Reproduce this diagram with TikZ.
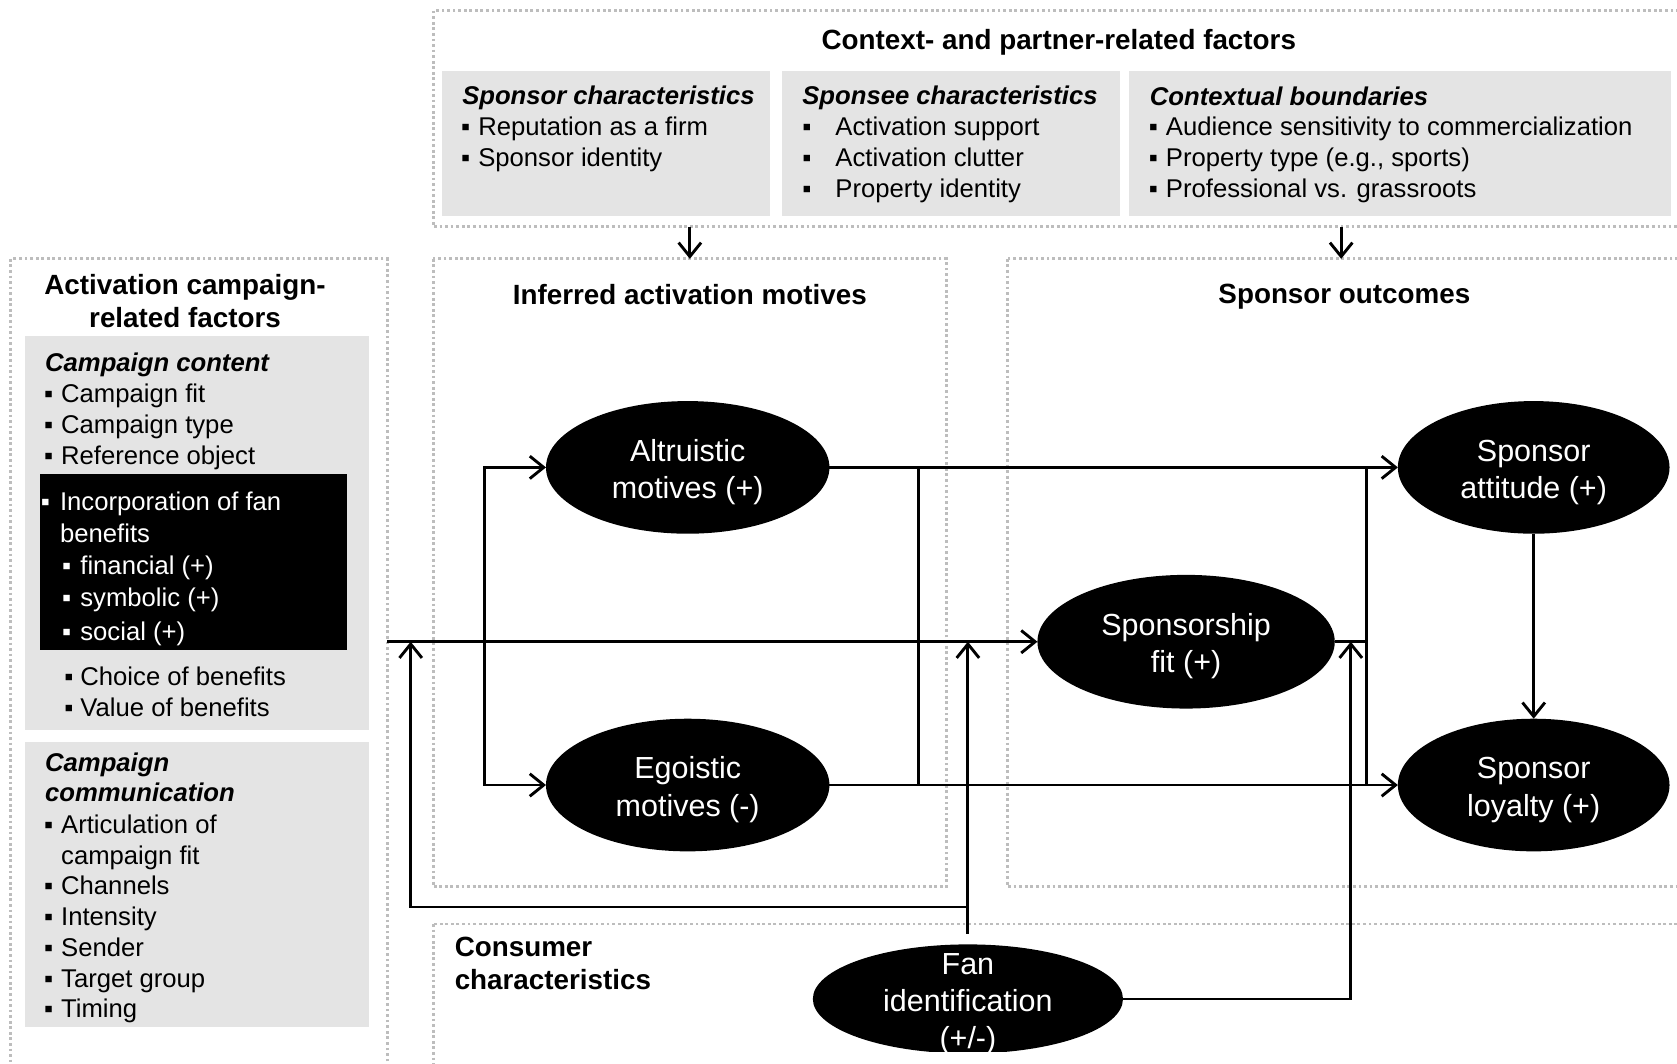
\documentclass[tikz,border=0pt]{standalone}
\usepackage{fontspec}
\setmainfont{Liberation Sans}
\usetikzlibrary{shapes.geometric,arrows.meta}
\definecolor{boxgray}{HTML}{E4E4E4}
\definecolor{dotgray}{HTML}{BDBDBD}
\newcommand{\bu}[1]{\makebox[#1][l]{\hspace{-2pt}▪}}
\newcommand{\up}{\rule{0pt}{29pt}}
\begin{document}
\begin{tikzpicture}[x=1pt,y=-1pt,
  dotbox/.style={draw=dotgray, line width=2.6pt, dash pattern=on 2.6pt off 2.6pt},
  graybox/.style={fill=boxgray},
  conn/.style={line width=2.7pt, -{Straight Barb[length=13pt,width=21pt]}},
  plain/.style={line width=2.7pt},
  body/.style={anchor=base west, inner sep=0pt, font=\fontsize{24}{29}\selectfont},
  subh/.style={anchor=base west, inner sep=0pt, font=\fontsize{24}{29}\selectfont\bfseries\itshape},
  head/.style={anchor=base, inner sep=0pt, font=\fontsize{26}{31}\selectfont\bfseries},
  headl/.style={anchor=base west, inner sep=0pt, font=\fontsize{26}{31}\selectfont\bfseries},
  ell/.style={ellipse, fill=black, text=white, align=center, inner sep=0pt, outer sep=0pt, font=\fontsize{28.5}{35}\selectfont}
]
\useasboundingbox (0,0) rectangle (1568,994);
\clip (0,0) rectangle (1568,994);

% ---------- dotted group boxes ----------
\draw[dotbox] (405,10) rectangle (1620,212);
\draw[dotbox] (10,242) rectangle (362,1060);
\draw[dotbox] (405,242) rectangle (885,829);
\draw[dotbox] (942,242) rectangle (1620,829);
\draw[dotbox] (405,864) rectangle (1620,1060);

% ---------- gray boxes ----------
\fill[graybox] (413,66) rectangle (720,202);
\fill[graybox] (731,66) rectangle (1047,202);
\fill[graybox] (1056,66) rectangle (1562,202);
\fill[graybox] (23,314) rectangle (345,683);
\fill[graybox] (23,694) rectangle (345,960);
\fill[black] (37,443) rectangle (324,608);

% ---------- top texts ----------
\node[head] (ctxT) at (990,46) {Context- and partner-related factors};
\node[subh] (spT) at (432,97.5) {Sponsor characteristics};
\node[body] (sp1) at (433,126.5) {\bu{14pt}Reputation as a firm};
\node[body] (sp2) at (433,155.5) {\bu{14pt}Sponsor identity};
\node[subh] (seT) at (750,97.5) {Sponsee characteristics};
\node[body] (se1) at (752,126.5) {\bu{29pt}Activation support};
\node[body] (se2) at (752,155.5) {\bu{29pt}Activation clutter};
\node[body] (se3) at (752,184.5) {\bu{29pt}Property identity};
\node[subh] (cbT) at (1075,98.5) {Contextual boundaries};
\node[body] (cb1) at (1076,127) {\bu{14pt}Audience sensitivity to commercialization};
\node[body] (cb2) at (1076,156) {\bu{14pt}Property type (e.g., sports)};
\node[body] (cb3) at (1076,185) {\bu{14pt}Professional vs. grassroots};

% ---------- left texts ----------
\node[head] (acT1) at (173,275) {Activation campaign-};
\node[head] (acT2) at (173,306) {related factors};
\node[subh] (ccT) at (42,347.5) {Campaign content};
\node[body] (cc1) at (43,376.5) {\bu{14pt}Campaign fit};
\node[body] (cc2) at (43,405.5) {\bu{14pt}Campaign type};
\node[body] (cc3) at (43,434.5) {\bu{14pt}Reference object};
\node[body,text=white] (fb1) at (40,477.5) {\bu{16pt}Incorporation of fan};
\node[body,text=white] (fb2) at (56,507.5) {benefits};
\node[body,text=white] (fb3) at (60,537.5) {\bu{15pt}financial (+)};
\node[body,text=white] (fb4) at (60,567.5) {\bu{15pt}symbolic (+)};
\node[body,text=white] (fb5) at (60,598.5) {\bu{15pt}social (+)};
\node[body] (cb6) at (62,640.5) {\bu{13pt}Choice of benefits};
\node[body] (cb7) at (62,669.5) {\bu{13pt}Value of benefits};
\node[subh] (cmT1) at (42,721.5) {Campaign};
\node[subh] (cmT2) at (42,749.5) {communication};
\node[body] (cm1) at (43,779.5) {\bu{14pt}Articulation of};
\node[body] (cm2) at (57,808.5) {campaign fit};
\node[body] (cm3) at (43,836.5) {\bu{14pt}Channels};
\node[body] (cm4) at (43,865.5) {\bu{14pt}Intensity};
\node[body] (cm5) at (43,894.5) {\bu{14pt}Sender};
\node[body] (cm6) at (43,923.5) {\bu{14pt}Target group};
\node[body] (cm7) at (43,951.5) {\bu{14pt}Timing};

% ---------- group titles ----------
\node[head] (iaT) at (645,285) {Inferred activation motives};
\node[head] (soT) at (1257,284) {Sponsor outcomes};
\node[headl] (ccT1) at (425,894) {Consumer};
\node[headl] (ccT2) at (425,925) {characteristics};

% ---------- ellipses ----------
\node[ell, minimum width=265pt, minimum height=124pt] (alt) at (643,437) {\up Altruistic\\motives (+)};
\node[ell, minimum width=265pt, minimum height=124pt] (ego) at (643,734) {\up Egoistic\\motives (-)};
\node[ell, minimum width=278pt, minimum height=125pt] (sf) at (1109,600) {\up Sponsorship\\fit (+)};
\node[ell, minimum width=254pt, minimum height=124pt] (att) at (1434,437) {\up Sponsor\\attitude (+)};
\node[ell, minimum width=254pt, minimum height=124pt] (loy) at (1434,734) {\up Sponsor\\loyalty (+)};
\begin{scope}
  \clip (700,850) rectangle (1110,983);
  \node[ell, minimum width=290pt, minimum height=102pt] (fan) at (905,934) {};
  \node[inner sep=0pt, text=white, align=center, font=\fontsize{28.5}{34.5}\selectfont] (fanT) at (905,939) {Fan\\identification\\(+/-)};
\end{scope}

% ---------- coordinates ----------
\coordinate (inL) at (362,600);
\coordinate (jL) at (453,600);
\coordinate (mA) at (859,437);
\coordinate (mE) at (859,734);
\coordinate (rA) at (1278,437);
\coordinate (rE) at (1278,734);
\coordinate (rJ) at (1278,600);
\coordinate (fanUp) at (905,600);
\coordinate (fanJ) at (905,848);
\coordinate (lUp) at (384,600);
\coordinate (rUp) at (1263,600);
\coordinate (dA1) at (645,212);
\coordinate (dA2) at (645,242);
\coordinate (dB1) at (1254,212);
\coordinate (dB2) at (1254,242);

% ---------- connectors ----------
\draw[conn] (dA1) -- (dA2);
\draw[conn] (dB1) -- (dB2);
\draw[conn] (inL) -- (sf.west);
\draw[conn] (jL) |- (alt.west);
\draw[conn] (jL) |- (ego.west);
\draw[plain] (alt.east) -- (mA) -- (mE) -- (ego.east);
\draw[conn] (mA) -- (att.west);
\draw[conn] (mE) -- (loy.west);
\draw[plain] (sf.east) -- (rJ);
\draw[plain] (rA) -- (rE);
\draw[conn] (att.south) -- (loy.north);
\draw[conn, shorten <=10pt] (fan.north) -- (fanUp);
\draw[conn] (fanJ) -| (lUp);
\draw[conn] (fan.east) -| (rUp);
\end{tikzpicture}
\end{document}
